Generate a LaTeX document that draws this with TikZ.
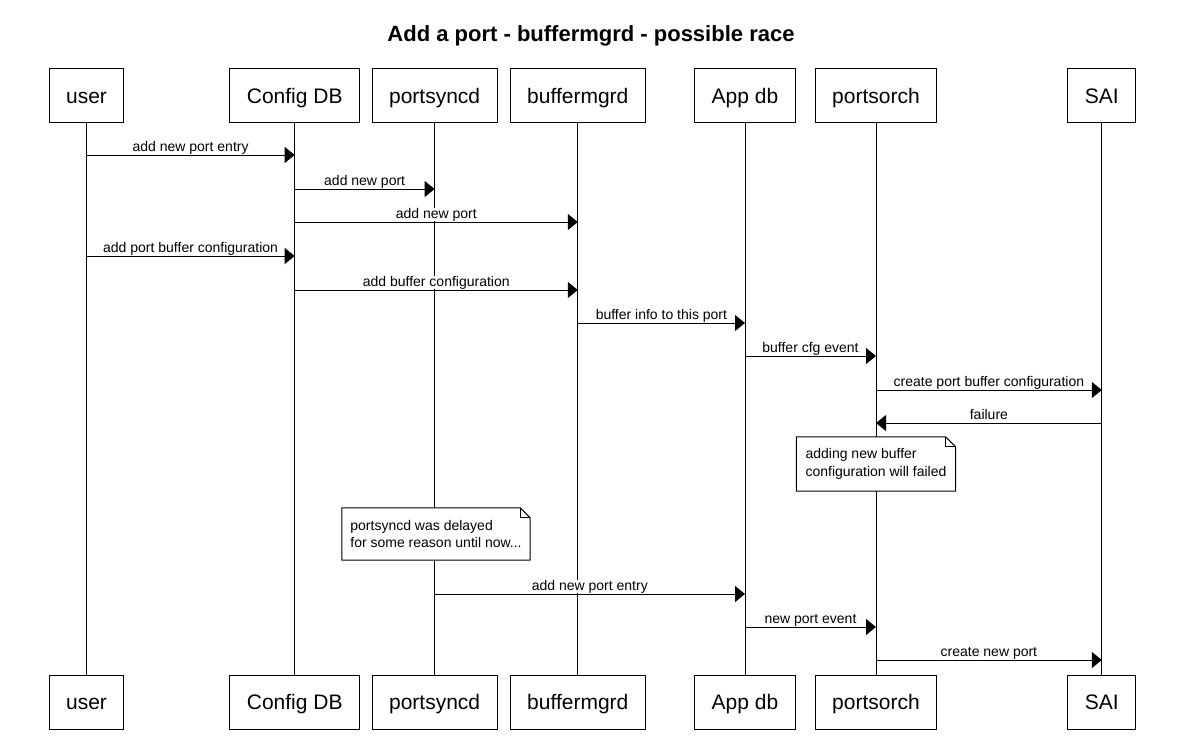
\documentclass[tikz,border=0pt]{standalone}
\usepackage{fontspec}
\setmainfont{Liberation Sans}
\usetikzlibrary{arrows.meta}
\begin{document}
\begin{tikzpicture}[x=1pt,y=-1pt,
  actor/.style={draw, line width=1pt, fill=white, minimum height=54pt, inner xsep=17pt, inner ysep=0pt,
    text height=15pt, text depth=0pt, font=\fontsize{21}{25}\selectfont},
  life/.style={line width=1pt},
  msg/.style={line width=1pt, -{Triangle[length=10pt,width=16pt]}},
  lbl/.style={font=\fontsize{14}{17}\selectfont, fill=white, inner xsep=1pt, inner ysep=0pt,
    anchor=base, yshift=4pt, pos=0.5},
  notetext/.style={font=\fontsize{14}{17.5}\selectfont, align=left, inner sep=0pt, fill=white},
  noteline/.style={draw, line width=1pt}
]
\fill[white] (0,0) rectangle (1201,741);
\useasboundingbox (0,0) rectangle (1201,741);

\node[font=\bfseries\fontsize{22}{26}\selectfont, anchor=base] (title) at (591,42)
  {Add a port - buffermgrd - possible race};

% participants (top)
\node[actor] (uT) at (86.5,96) {user};
\node[actor] (cT) at (294.7,96) {Config DB};
\node[actor] (pT) at (434.6,96) {portsyncd};
\node[actor] (bT) at (577.8,96) {buffermgrd};
\node[actor] (aT) at (745,96) {App db};
\node[actor] (oT) at (876,96) {portsorch};
\node[actor] (sT) at (1101.8,96) {SAI};
% participants (bottom)
\node[actor] (uB) at (86.5,702) {user};
\node[actor] (cB) at (294.7,702) {Config DB};
\node[actor] (pB) at (434.6,702) {portsyncd};
\node[actor] (bB) at (577.8,702) {buffermgrd};
\node[actor] (aB) at (745,702) {App db};
\node[actor] (oB) at (876,702) {portsorch};
\node[actor] (sB) at (1101.8,702) {SAI};

% lifelines
\foreach \n in {u,c,p,b,a,o,s}{
  \draw[life] (\n T.south) -- (\n B.north);
}

% rows
\coordinate (r1) at (0,155);
\coordinate (r2) at (0,189);
\coordinate (r3) at (0,222);
\coordinate (r4) at (0,256);
\coordinate (r5) at (0,290);
\coordinate (r6) at (0,323);
\coordinate (r7) at (0,356);
\coordinate (r8) at (0,390);
\coordinate (r9) at (0,423);
\coordinate (r10) at (0,594);
\coordinate (r11) at (0,627);
\coordinate (r12) at (0,660);
\coordinate (n2c) at (0,464);
\coordinate (n1c) at (0,534);

% messages
\draw[msg] (uT |- r1) -- (cT |- r1) node[lbl] (l1) {add new port entry};
\draw[msg] (cT |- r2) -- (pT |- r2) node[lbl] (l2) {add new port};
\draw[msg] (cT |- r3) -- (bT |- r3) node[lbl] (l3) {add new port};
\draw[msg] (uT |- r4) -- (cT |- r4) node[lbl] (l4) {add port buffer configuration};
\draw[msg] (cT |- r5) -- (bT |- r5) node[lbl] (l5) {add buffer configuration};
\draw[msg] (bT |- r6) -- (aT |- r6) node[lbl] (l6) {buffer info to this port};
\draw[msg] (aT |- r7) -- (oT |- r7) node[lbl] (l7) {buffer cfg event};
\draw[msg] (oT |- r8) -- (sT |- r8) node[lbl] (l8) {create port buffer configuration};
\draw[msg] (sT |- r9) -- (oT |- r9) node[lbl] (l9) {failure};

% note 2
\node[notetext, minimum width=159pt, minimum height=54pt] (n2) at (oT |- n2c)
  {adding new buffer\\configuration will failed};
\draw[noteline] (n2.north west) -- ([xshift=-10pt]n2.north east) -- ([yshift=-10pt]n2.north east)
  -- (n2.south east) -- (n2.south west) -- cycle;
\draw[noteline] ([xshift=-10pt]n2.north east) |- ([yshift=-10pt]n2.north east);

% note 1
\node[notetext, minimum width=188pt, minimum height=52pt] (n1) at ([xshift=1.4pt]pT |- n1c)
  {portsyncd was delayed\\for some reason until now...};
\draw[noteline] (n1.north west) -- ([xshift=-10pt]n1.north east) -- ([yshift=-10pt]n1.north east)
  -- (n1.south east) -- (n1.south west) -- cycle;
\draw[noteline] ([xshift=-10pt]n1.north east) |- ([yshift=-10pt]n1.north east);

\draw[msg] (pT |- r10) -- (aT |- r10) node[lbl] (l10) {add new port entry};
\draw[msg] (aT |- r11) -- (oT |- r11) node[lbl] (l11) {new port event};
\draw[msg] (oT |- r12) -- (sT |- r12) node[lbl] (l12) {create new port};
\end{tikzpicture}
\end{document}
